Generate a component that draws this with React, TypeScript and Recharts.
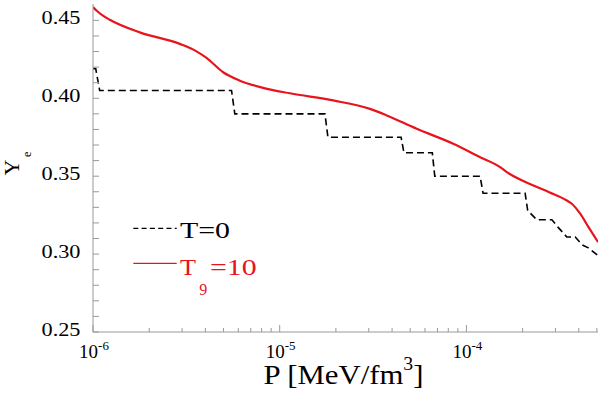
import { LineChart, Line, XAxis, YAxis, Legend, Label } from "recharts";

// T = 0 curve (dashed step)
const pT0 = [
  1.0e-6, 1.034e-6, 1.086e-6, 5.52e-6, 5.75e-6, 1.747e-5, 1.813e-5, 4.47e-5,
  4.63e-5, 6.57e-5, 6.77e-5, 1.184e-4, 1.229e-4, 2.064e-4, 2.13e-4, 2.385e-4,
  2.87e-4, 3.11e-4, 3.45e-4, 3.83e-4, 4.16e-4, 4.5e-4, 5.07e-4,
];
const yeT0 = [
  0.419, 0.419, 0.405, 0.405, 0.39, 0.39, 0.375, 0.375,
  0.365, 0.365, 0.35, 0.35, 0.339, 0.339, 0.328, 0.322,
  0.322, 0.317, 0.311, 0.311, 0.306, 0.304, 0.299,
];

// T9 = 10 curve (red)
const pT9 = [
  1.0e-6, 1.047e-6, 1.131e-6, 1.229e-6, 1.78e-6, 2.917e-6, 3.584e-6, 4.056e-6,
  4.98e-6, 6.12e-6, 8.15e-6, 1.134e-5, 1.936e-5, 3.045e-5, 3.743e-5, 5.42e-5,
  8.51e-5, 1.184e-4, 1.516e-4, 1.647e-4, 2.287e-4, 2.776e-4, 3.45e-4, 3.67e-4,
  4.07e-4, 4.51e-4, 5.07e-4,
];
const yeT9 = [
  0.4585, 0.4562, 0.453, 0.4504, 0.4423, 0.4349, 0.4301, 0.4259,
  0.4167, 0.4113, 0.4067, 0.4032, 0.3986, 0.3932, 0.389, 0.3804,
  0.3708, 0.3622, 0.3558, 0.3526, 0.344, 0.3397, 0.3344, 0.3323,
  0.3259, 0.3173, 0.3077,
];

const xMajor = [1e-6, 1e-5, 1e-4];
const xMajorExp = ["-6", "-5", "-4"];
const xTicks = [
  1e-6, 2e-6, 3e-6, 4e-6, 5e-6, 6e-6, 7e-6, 8e-6, 9e-6,
  1e-5, 2e-5, 3e-5, 4e-5, 5e-5, 6e-5, 7e-5, 8e-5, 9e-5,
  1e-4, 2e-4, 3e-4, 4e-4, 5e-4,
];
const yMajor = [0.25, 0.3, 0.35, 0.4, 0.45];
const yMajorLabels = ["0.25", "0.30", "0.35", "0.40", "0.45"];
const yTicks = [
  0.25, 0.26, 0.27, 0.28, 0.29, 0.3, 0.31, 0.32, 0.33, 0.34, 0.35,
  0.36, 0.37, 0.38, 0.39, 0.4, 0.41, 0.42, 0.43, 0.44, 0.45,
];

const t0Data = pT0.map((p, i) => ({ p, ye: yeT0[i] }));
const t9Data = pT9.map((p, i) => ({ p, ye: yeT9[i] }));

const FONT = "'Liberation Serif', 'DejaVu Serif', serif";
const FRAME = "#999";
const RED = "#e8141c";
const serif = { fontFamily: FONT };

const xMajorIdx = (v: number) =>
  xMajor.findIndex((m) => Math.abs(Math.log10(v) - Math.log10(m)) < 1e-6);
const yMajorIdx = (v: number) => yMajor.findIndex((m) => Math.abs(v - m) < 1e-6);

function BottomTick(props: any) {
  const { x, y, payload } = props;
  const i = xMajorIdx(payload.value);
  const len = i >= 0 ? 7 : 4;
  return (
    <g>
      <line x1={x} x2={x} y1={y} y2={y - len} stroke={FRAME} />
      {i >= 0 && (
        <text x={x + 1} y={y + 26} textAnchor="middle" style={serif} fill="#000">
          <tspan fontSize={19}>10</tspan>
          <tspan fontSize={13} dy={-8.5}>
            {xMajorExp[i]}
          </tspan>
        </text>
      )}
    </g>
  );
}

function TopTick(props: any) {
  const { x, y, payload } = props;
  const len = xMajorIdx(payload.value) >= 0 ? 7 : 4;
  return <line x1={x} x2={x} y1={y} y2={y + len} stroke={FRAME} />;
}

function LeftTick(props: any) {
  const { x, y, payload } = props;
  const i = yMajorIdx(payload.value);
  return (
    <g>
      <line x1={x} x2={x + 6} y1={y} y2={y} stroke={FRAME} />
      {i >= 0 && (
        <text
          x={x - 12.5}
          y={y + 3.5}
          textAnchor="end"
          style={serif}
          fontSize={19.5}
          textLength={39}
          lengthAdjust="spacingAndGlyphs"
          fill="#000"
        >
          {yMajorLabels[i]}
        </text>
      )}
    </g>
  );
}

function RightTick(props: any) {
  const { x, y } = props;
  return <line x1={x} x2={x - 6} y1={y} y2={y} stroke={FRAME} />;
}

function XTitle() {
  return (
    <text x={263.5} y={383.5} style={serif} fill="#000" textLength={160} lengthAdjust="spacingAndGlyphs">
      <tspan fontSize={28}>P [MeV/fm</tspan>
      <tspan fontSize={18} dy={-14}>
        3
      </tspan>
      <tspan fontSize={28} dy={14}>
        ]
      </tspan>
    </text>
  );
}

function YTitle() {
  return (
    <g style={serif} fill="#000">
      <text transform="translate(19,175.5) rotate(-90)" fontSize={22}>
        Y
      </text>
      <text transform="translate(30.5,157) rotate(-90)" fontSize={12}>
        e
      </text>
    </g>
  );
}

function LegendBox() {
  return (
    <svg width={140} height={100} style={{ display: "block", ...serif }}>
      <line x1={3.3} x2={46.7} y1={28.3} y2={28.3} stroke="#000" strokeWidth={1.3} strokeDasharray="5 3.3" />
      <text x={50} y={38.3} fontSize={22.7} textLength={50} lengthAdjust="spacingAndGlyphs" fill="#000">
        T=0
      </text>
      <line x1={3.3} x2={46.7} y1={63.3} y2={63.3} stroke={RED} strokeWidth={1.3} />
      <g fill={RED}>
        <text x={50} y={75} fontSize={22.7} textLength={16} lengthAdjust="spacingAndGlyphs">
          T
        </text>
        <text x={69.3} y={95} fontSize={16}>
          9
        </text>
        <text x={80} y={75} fontSize={22.7} textLength={46.7} lengthAdjust="spacingAndGlyphs">
          =10
        </text>
      </g>
    </svg>
  );
}

export default function App() {
  return (
    <div style={{ position: "absolute", left: 0, top: 0, width: 600, height: 398, background: "#fff", ...serif }}>
      <LineChart width={600} height={398} margin={{ top: 4, right: 2, bottom: 0, left: 0 }} style={serif}>
        <XAxis
          xAxisId="b"
          dataKey="p"
          type="number"
          scale="log"
          domain={[1e-6, 5.07e-4]}
          allowDataOverflow
          ticks={xTicks}
          interval={0}
          height={66}
          tickSize={0}
          tickMargin={0}
          tickLine={false}
          tick={<BottomTick />}
          axisLine={{ stroke: FRAME }}
        >
          <Label content={() => <XTitle />} />
        </XAxis>
        <XAxis
          xAxisId="t"
          orientation="top"
          dataKey="p"
          type="number"
          scale="log"
          domain={[1e-6, 5.07e-4]}
          allowDataOverflow
          ticks={xTicks}
          interval={0}
          height={0}
          tickSize={0}
          tickMargin={0}
          tickLine={false}
          tick={<TopTick />}
          axisLine={{ stroke: FRAME }}
        />
        <YAxis
          yAxisId="l"
          type="number"
          domain={[0.25, 0.4605]}
          allowDataOverflow
          ticks={yTicks}
          interval={0}
          width={93}
          tickSize={0}
          tickMargin={0}
          tickLine={false}
          tick={<LeftTick />}
          axisLine={{ stroke: FRAME }}
        >
          <Label content={() => <YTitle />} />
        </YAxis>
        <YAxis
          yAxisId="r"
          orientation="right"
          type="number"
          domain={[0.25, 0.4605]}
          allowDataOverflow
          ticks={yTicks}
          interval={0}
          width={0}
          tickSize={0}
          tickMargin={0}
          tickLine={false}
          tick={<RightTick />}
          axisLine={{ stroke: FRAME }}
        />
        <Legend
          layout="vertical"
          align="center"
          verticalAlign="middle"
          width={140}
          height={100}
          wrapperStyle={{ left: 130, top: 200 }}
          content={() => <LegendBox />}
        />
        <Line
          xAxisId="b"
          yAxisId="l"
          data={t0Data}
          dataKey="ye"
          name="T=0"
          type="linear"
          stroke="#000"
          strokeWidth={1.6}
          strokeDasharray="7 4"
          dot={false}
          isAnimationActive={false}
        />
        <Line
          xAxisId="b"
          yAxisId="l"
          data={t9Data}
          dataKey="ye"
          name="T9=10"
          type="monotone"
          stroke={RED}
          strokeWidth={2.2}
          dot={false}
          isAnimationActive={false}
        />
      </LineChart>
    </div>
  );
}
